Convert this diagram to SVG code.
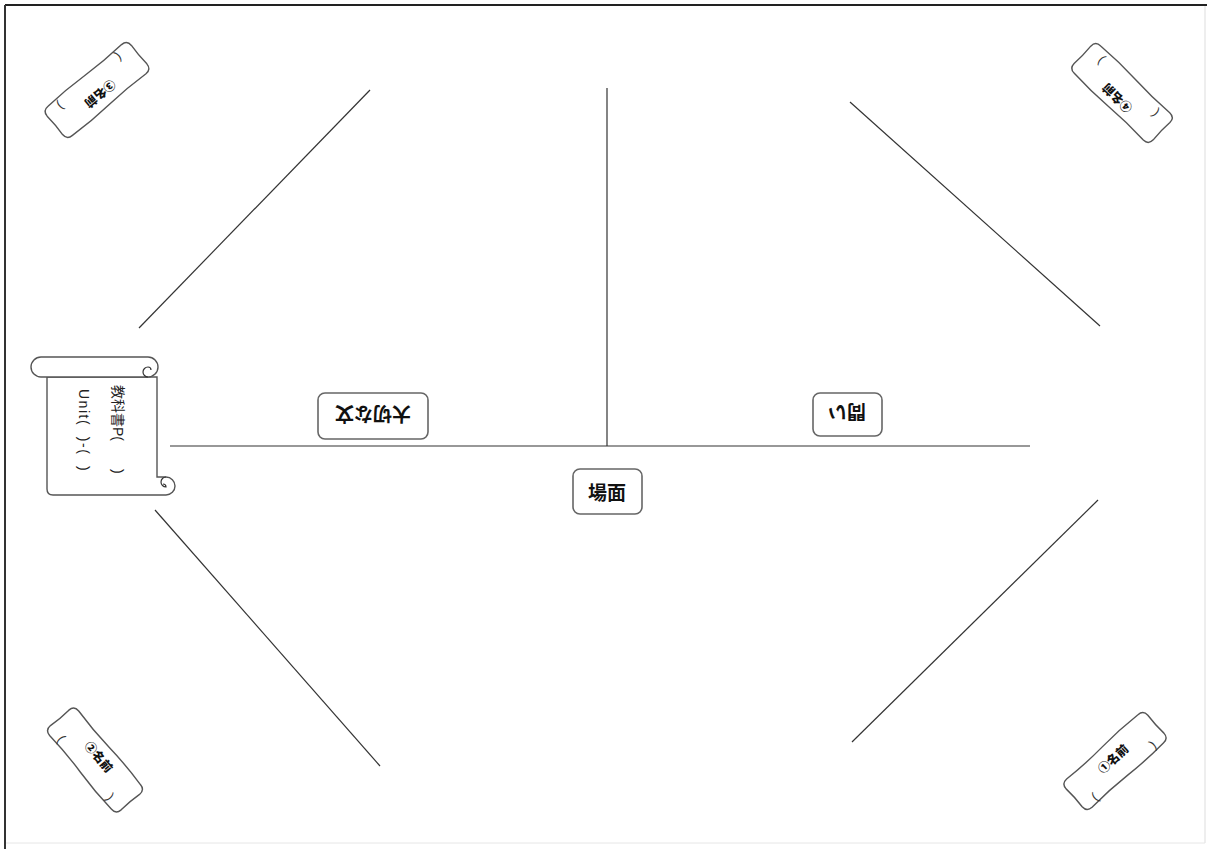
<svg xmlns="http://www.w3.org/2000/svg" xmlns:xlink="http://www.w3.org/1999/xlink" width="1207" height="849" viewBox="0 0 1207 849">
<style>
.ln{stroke:#333;stroke-width:1.2;fill:none}
.box{fill:#fff;stroke:#666;stroke-width:1.6}
.lbl{font-family:"Noto Sans CJK JP","Noto Sans",sans-serif;font-weight:bold;font-size:19px;fill:#111;text-anchor:middle;dominant-baseline:central}
.tag{fill:#fff;stroke:#555;stroke-width:1.4}
.tn{font-family:"Noto Sans CJK JP","Noto Sans",sans-serif;font-weight:900;font-size:12px;fill:#111;text-anchor:middle;dominant-baseline:central}
.tp{font-family:"Liberation Sans","Noto Sans CJK JP",sans-serif;font-size:13px;fill:#333;text-anchor:middle;dominant-baseline:central}
.sc{fill:#fff;stroke:#555;stroke-width:1.4}
.vt{font-family:"Liberation Sans","Noto Sans CJK JP",sans-serif;font-size:14px;fill:#222;dominant-baseline:central}
</style>
<defs>
<path id="tagShape" d="M -48 -19 Q -24 -17.5 0 -19 Q 24 -20.5 48 -19 Q 55 -19 55 -12 Q 54 0 55 12 Q 55 19 48 19 Q 24 20.5 0 19 Q -24 17.5 -48 19 Q -55 19 -55 12 Q -54 0 -55 -12 Q -55 -19 -48 -19 Z"/>
</defs>
<rect x="0" y="0" width="1207" height="849" fill="#fff"/>
<g id="frame">
<line x1="5" y1="5" x2="1207" y2="5" stroke="#222" stroke-width="2"/>
<line x1="5" y1="5" x2="5" y2="849" stroke="#333" stroke-width="2"/>
<line x1="1205" y1="6" x2="1205" y2="843" stroke="#ddd" stroke-width="1"/>
<line x1="6" y1="843" x2="1205" y2="843" stroke="#e6e6e6" stroke-width="1"/>
</g>
<g id="connectors">
<line class="ln" x1="607" y1="88" x2="607" y2="446"/>
<line class="ln" x1="170" y1="446" x2="1030" y2="446"/>
<line class="ln" x1="370" y1="90" x2="139" y2="328"/>
<line class="ln" x1="850" y1="102" x2="1100" y2="326"/>
<line class="ln" x1="155" y1="510" x2="380" y2="766"/>
<line class="ln" x1="1098" y1="500" x2="852" y2="742"/>
</g>
<g id="scroll">
<path class="sc" d="M 47 377 V 489 Q 47 495 53 495 H 166 A 9 9 0 0 0 166 477 H 157 V 377 Z"/>
<path class="sc" d="M 41 357 H 148 A 10 10 0 0 1 148 377 H 41 A 10 10 0 0 1 41 357 Z"/>
<path class="ln" d="M 148 377 A 5 5 0 0 1 148 367 A 3 3 0 0 1 151 370" stroke="#555"/>
<path class="ln" d="M 166 477 A 5 5 0 0 0 166 487 A 3 3 0 0 0 163 484" stroke="#555"/>
<text class="vt" transform="translate(118 385) rotate(90)">教科書P(　　)</text>
<text class="vt" letter-spacing="1.5" transform="translate(84 389) rotate(90)">Unit(&#160;&#160;)-(&#160;&#160;)</text>
</g>
<g id="node-taisetsu">
<rect class="box" x="318" y="393" width="110" height="46" rx="7"/>
<text class="lbl" font-size="20" transform="translate(373 415) rotate(180)">大切な文</text>
</g>
<g id="node-toi">
<rect class="box" x="813" y="393" width="69" height="43" rx="7"/>
<text class="lbl" transform="translate(847 413) rotate(180)">問い</text>
</g>
<g id="node-bamen">
<rect class="box" x="573" y="469" width="69" height="45" rx="7"/>
<text class="lbl" x="607" y="491">場面</text>
</g>
<g id="tag-3" transform="translate(97 90) rotate(140)">
<use href="#tagShape" class="tag"/>
<text class="tn" x="0" y="-6">③名前</text>
<text class="tp" x="-38" y="11">(</text>
<text class="tp" x="38" y="11">)</text>
</g>
<g id="tag-4" transform="translate(1122 93) rotate(224)">
<use href="#tagShape" class="tag"/>
<text class="tn" x="0" y="-8">④名前</text>
<text class="tp" x="-38" y="8">(</text>
<text class="tp" x="38" y="8">)</text>
</g>
<g id="tag-2" transform="translate(95 760) rotate(50)">
<use href="#tagShape" class="tag"/>
<text class="tn" x="0" y="-6">②名前</text>
<text class="tp" x="-38" y="12">(</text>
<text class="tp" x="38" y="12">)</text>
</g>
<g id="tag-1" transform="translate(1115 761) rotate(-42)">
<use href="#tagShape" class="tag"/>
<text class="tn" x="0" y="-4">①名前</text>
<text class="tp" x="-39" y="13">(</text>
<text class="tp" x="39" y="13">)</text>
</g>
</svg>
